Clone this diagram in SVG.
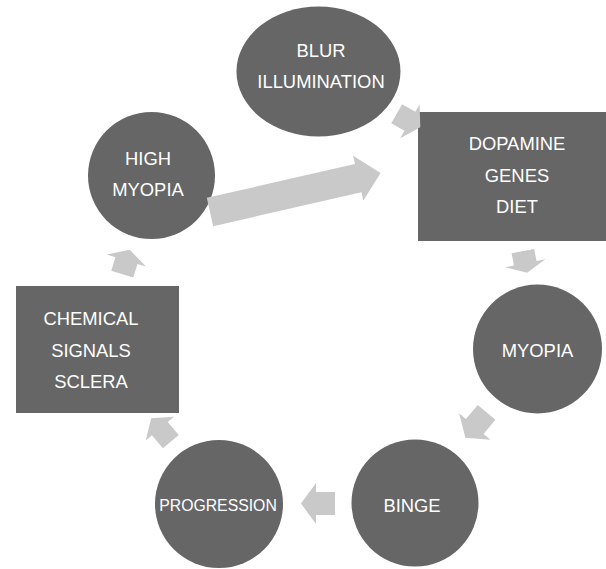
<svg xmlns="http://www.w3.org/2000/svg" xmlns:xlink="http://www.w3.org/1999/xlink" width="606" height="569" viewBox="0 0 606 569">
<style>
.node{fill:#666666;}
.arr{fill:#c9c9c9;}
.lbl{fill:#ffffff;font-family:"Liberation Sans",Arial,sans-serif;font-size:18.4px;text-anchor:middle;}
.sm{font-size:15.8px;}
</style>
<defs>
<polygon id="sarrow" points="-17,-11.5 2,-11.5 2,-20.5 17,0 2,20.5 2,11.5 -17,11.5"/>
</defs>
<rect width="606" height="569" fill="#ffffff"/>
<g id="blur">
<ellipse class="node" cx="318.5" cy="71.5" rx="82" ry="65"/>
<text class="lbl" x="321" y="57">BLUR</text>
<text class="lbl" x="321" y="88">ILLUMINATION</text>
</g>
<g id="dopamine">
<rect class="node" x="418" y="112" width="188" height="129"/>
<text class="lbl" x="517" y="150">DOPAMINE</text>
<text class="lbl" x="517" y="182">GENES</text>
<text class="lbl" x="517" y="213">DIET</text>
</g>
<g id="myopia">
<circle class="node" cx="537.5" cy="349" r="64.5"/>
<text class="lbl" x="537.5" y="357">MYOPIA</text>
</g>
<g id="binge">
<circle class="node" cx="415" cy="503" r="63.5"/>
<text class="lbl" x="412" y="512">BINGE</text>
</g>
<g id="progression">
<circle class="node" cx="219" cy="504" r="64"/>
<text class="lbl sm" x="218" y="511">PROGRESSION</text>
</g>
<g id="chemical">
<rect class="node" x="16" y="286" width="163" height="127"/>
<text class="lbl" x="91" y="325">CHEMICAL</text>
<text class="lbl" x="91" y="357">SIGNALS</text>
<text class="lbl" x="91" y="388">SCLERA</text>
</g>
<g id="high-myopia">
<circle class="node" cx="151.5" cy="175.5" r="63.5"/>
<text class="lbl" x="148" y="165">HIGH</text>
<text class="lbl" x="148" y="196">MYOPIA</text>
</g>
<g id="connectors" class="arr">
<use xlink:href="#sarrow" transform="translate(408.5,120.5) rotate(30) scale(0.8,0.95)"/>
<use xlink:href="#sarrow" transform="translate(525,262) rotate(79) scale(0.65,1)"/>
<use xlink:href="#sarrow" transform="translate(476,425) rotate(130) scale(0.97,1)"/>
<use xlink:href="#sarrow" transform="translate(318,503.5) rotate(180)"/>
<use xlink:href="#sarrow" transform="translate(161,430) rotate(-130) scale(0.9,0.9)"/>
<use xlink:href="#sarrow" transform="translate(126,262) rotate(-73) scale(0.75,1)"/>
<polygon transform="translate(210,212) rotate(-12.85)" points="0,-14.5 152,-14.5 152,-23 175,0 152,23 152,14.5 0,14.5"/>
</g>
</svg>
